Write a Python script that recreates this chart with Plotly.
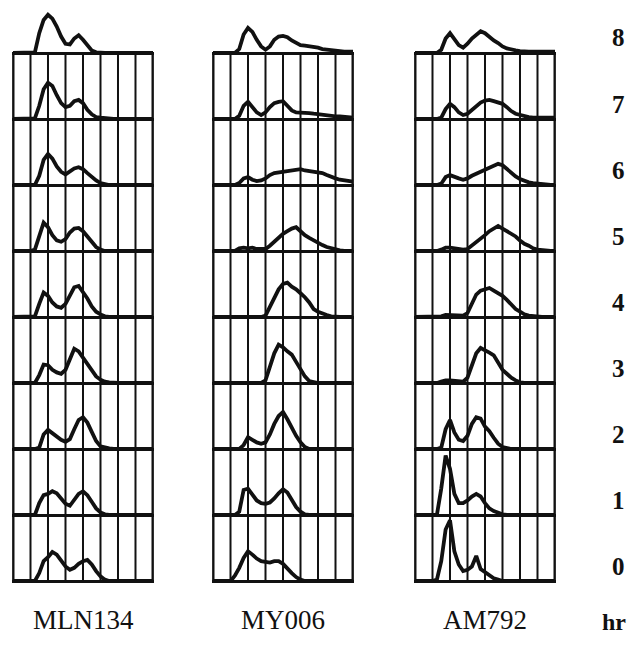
import plotly.graph_objects as go

# ---------------- data ----------------
STRAINS = ["MLN134", "MY006", "AM792"]
HOURS = [0, 1, 2, 3, 4, 5, 6, 7, 8]
HOUR_LABELS = ["0", "1", "2", "3", "4", "5", "6", "7", "8"]
UNIT_LABEL = "hr"

# channel positions (grid units, 8 vertical divisions per panel)
X = [0.0, 0.25, 0.5, 0.75, 1.0, 1.25, 1.5, 1.75, 2.0, 2.25, 2.5, 2.75,
     3.0, 3.25, 3.5, 3.75, 4.0, 4.25, 4.5, 4.75, 5.0, 5.25, 5.5, 5.75,
     6.0, 6.25, 6.5, 6.75, 7.0, 7.25, 7.5, 7.75, 8.0]

# relative cell counts (fraction of one row height), rows = hours 0..8
MLN134_H = [
    [0, 0, 0, 0, 0, 0, 0.12, 0.30, 0.36, 0.44, 0.40, 0.30, 0.22, 0.17, 0.20, 0.26, 0.30,
     0.32, 0.25, 0.15, 0.07, 0.02, 0, 0, 0, 0, 0, 0, 0, 0, 0, 0, 0],
    [0, 0, 0, 0, 0, 0, 0.18, 0.30, 0.32, 0.36, 0.33, 0.25, 0.17, 0.14, 0.22, 0.32, 0.36,
     0.30, 0.20, 0.10, 0.04, 0.01, 0, 0, 0, 0, 0, 0, 0, 0, 0, 0, 0],
    [0, 0, 0, 0, 0, 0, 0.02, 0.22, 0.29, 0.24, 0.18, 0.14, 0.11, 0.15, 0.30, 0.44, 0.48,
     0.40, 0.26, 0.12, 0.04, 0.02, 0.01, 0, 0, 0, 0, 0, 0, 0, 0, 0, 0],
    [0, 0, 0, 0, 0, 0, 0.12, 0.28, 0.27, 0.20, 0.16, 0.14, 0.20, 0.38, 0.52, 0.48, 0.38,
     0.28, 0.18, 0.10, 0.05, 0.02, 0.01, 0, 0, 0, 0, 0, 0, 0, 0, 0, 0],
    [0, 0, 0, 0, 0, 0.01, 0.20, 0.37, 0.32, 0.22, 0.16, 0.14, 0.20, 0.34, 0.45, 0.47, 0.38,
     0.28, 0.16, 0.08, 0.04, 0.01, 0, 0, 0, 0, 0, 0, 0, 0, 0, 0, 0],
    [0, 0, 0, 0, 0, 0.02, 0.25, 0.43, 0.36, 0.24, 0.16, 0.14, 0.18, 0.28, 0.34, 0.35, 0.30,
     0.22, 0.14, 0.06, 0.02, 0, 0, 0, 0, 0, 0, 0, 0, 0, 0, 0, 0],
    [0, 0, 0, 0, 0, 0, 0.14, 0.38, 0.47, 0.40, 0.28, 0.20, 0.16, 0.20, 0.25, 0.27, 0.24,
     0.18, 0.12, 0.07, 0.03, 0.01, 0, 0, 0, 0, 0, 0, 0, 0, 0, 0, 0],
    [0, 0, 0, 0, 0, 0.01, 0.20, 0.45, 0.55, 0.50, 0.36, 0.24, 0.18, 0.20, 0.27, 0.29, 0.24,
     0.14, 0.07, 0.03, 0.02, 0.01, 0, 0, 0, 0, 0, 0, 0, 0, 0, 0, 0],
    [0, 0, 0, 0, 0, 0.01, 0.30, 0.50, 0.58, 0.52, 0.40, 0.25, 0.14, 0.13, 0.22, 0.27, 0.20,
     0.12, 0.04, 0.01, 0, 0, 0, 0, 0, 0, 0, 0, 0, 0, 0, 0, 0],
]

MY006_H = [
    [0, 0, 0, 0, 0, 0.08, 0.20, 0.35, 0.45, 0.40, 0.34, 0.30, 0.29, 0.28, 0.30, 0.30, 0.26,
     0.18, 0.12, 0.06, 0.02, 0, 0, 0, 0, 0, 0, 0, 0, 0, 0, 0, 0],
    [0, 0, 0, 0, 0, 0, 0.05, 0.38, 0.40, 0.30, 0.22, 0.18, 0.17, 0.19, 0.25, 0.33, 0.39,
     0.34, 0.24, 0.12, 0.05, 0.01, 0, 0, 0, 0, 0, 0, 0, 0, 0, 0, 0],
    [0, 0, 0, 0, 0, 0, 0, 0.06, 0.18, 0.14, 0.10, 0.08, 0.10, 0.22, 0.38, 0.50, 0.56,
     0.45, 0.32, 0.20, 0.10, 0.03, 0, 0, 0, 0, 0, 0, 0, 0, 0, 0, 0],
    [0, 0, 0, 0, 0, 0, 0, 0, 0, 0, 0, 0, 0.04, 0.25, 0.45, 0.58, 0.54,
     0.48, 0.43, 0.32, 0.20, 0.10, 0.03, 0.01, 0, 0, 0, 0, 0, 0, 0, 0, 0],
    [0, 0, 0, 0, 0, 0, 0, 0, 0, 0, 0, 0, 0.02, 0.15, 0.30, 0.42, 0.50,
     0.52, 0.46, 0.42, 0.36, 0.30, 0.22, 0.12, 0.08, 0.05, 0.03, 0.01, 0, 0, 0, 0, 0],
    [0, 0, 0, 0, 0, 0, 0.04, 0.05, 0.04, 0.05, 0.03, 0.03, 0.03, 0.08, 0.14, 0.20, 0.26,
     0.30, 0.34, 0.36, 0.30, 0.24, 0.20, 0.16, 0.12, 0.09, 0.06, 0.04, 0.02, 0.01, 0, 0, 0],
    [0, 0, 0, 0, 0, 0, 0.03, 0.10, 0.12, 0.08, 0.06, 0.07, 0.10, 0.15, 0.18, 0.19, 0.20,
     0.21, 0.22, 0.23, 0.24, 0.22, 0.21, 0.20, 0.19, 0.18, 0.15, 0.12, 0.10, 0.08, 0.07, 0.06, 0.05],
    [0, 0, 0, 0, 0, 0, 0.05, 0.20, 0.26, 0.18, 0.10, 0.06, 0.10, 0.18, 0.24, 0.26, 0.27,
     0.20, 0.13, 0.10, 0.10, 0.10, 0.09, 0.08, 0.07, 0.06, 0.06, 0.05, 0.04, 0.04, 0.03, 0.03, 0.02],
    [0, 0, 0, 0, 0, 0, 0.06, 0.28, 0.38, 0.32, 0.20, 0.10, 0.05, 0.10, 0.20, 0.25, 0.26,
     0.24, 0.19, 0.15, 0.12, 0.11, 0.10, 0.10, 0.08, 0.06, 0.05, 0.04, 0.03, 0.03, 0.02, 0.02, 0.02],
]

AM792_H = [
    [0, 0, 0, 0, 0, 0.02, 0.30, 0.78, 0.92, 0.45, 0.25, 0.15, 0.17, 0.22, 0.38, 0.18, 0.13,
     0.08, 0.04, 0.02, 0, 0, 0, 0, 0, 0, 0, 0, 0, 0, 0, 0, 0],
    [0, 0, 0, 0, 0, 0, 0.40, 0.90, 0.70, 0.32, 0.18, 0.18, 0.22, 0.28, 0.32, 0.28, 0.18,
     0.10, 0.06, 0.03, 0.01, 0, 0, 0, 0, 0, 0, 0, 0, 0, 0, 0, 0],
    [0, 0, 0, 0, 0, 0, 0.02, 0.30, 0.44, 0.25, 0.14, 0.12, 0.20, 0.38, 0.48, 0.46, 0.34,
     0.27, 0.17, 0.08, 0.03, 0.01, 0, 0, 0, 0, 0, 0, 0, 0, 0, 0, 0],
    [0, 0, 0, 0, 0, 0, 0.02, 0.04, 0.04, 0.03, 0.02, 0.02, 0.08, 0.28, 0.45, 0.53, 0.50,
     0.46, 0.42, 0.30, 0.20, 0.14, 0.08, 0.04, 0.01, 0, 0, 0, 0, 0, 0, 0, 0],
    [0, 0, 0, 0, 0, 0, 0.01, 0.03, 0.03, 0.02, 0.02, 0.02, 0.06, 0.20, 0.34, 0.40, 0.42,
     0.44, 0.40, 0.36, 0.32, 0.26, 0.18, 0.12, 0.08, 0.04, 0.02, 0.01, 0, 0, 0, 0, 0],
    [0, 0, 0, 0, 0, 0, 0.02, 0.05, 0.05, 0.04, 0.03, 0.02, 0.03, 0.08, 0.13, 0.18, 0.24,
     0.30, 0.34, 0.38, 0.34, 0.30, 0.25, 0.22, 0.16, 0.11, 0.08, 0.04, 0.02, 0.01, 0, 0, 0],
    [0, 0, 0, 0, 0, 0, 0.02, 0.12, 0.15, 0.12, 0.10, 0.08, 0.10, 0.14, 0.17, 0.20, 0.23,
     0.26, 0.28, 0.32, 0.30, 0.24, 0.18, 0.13, 0.09, 0.06, 0.04, 0.03, 0.02, 0.01, 0, 0, 0],
    [0, 0, 0, 0, 0, 0, 0.02, 0.15, 0.23, 0.18, 0.10, 0.06, 0.08, 0.14, 0.20, 0.25, 0.28,
     0.29, 0.27, 0.25, 0.23, 0.18, 0.12, 0.08, 0.06, 0.04, 0.03, 0.02, 0.02, 0.02, 0.02, 0.02, 0.02],
    [0, 0, 0, 0, 0, 0, 0.05, 0.22, 0.30, 0.22, 0.12, 0.08, 0.14, 0.22, 0.28, 0.33, 0.30,
     0.24, 0.19, 0.15, 0.10, 0.07, 0.05, 0.04, 0.03, 0.02, 0.02, 0.02, 0.02, 0.02, 0.02, 0.02, 0.02],
]

SERIES = [MLN134_H, MY006_H, AM792_H]

# ---------------- layout geometry ----------------
# positions are page pixels; the page body has an 8 px margin, so the
# figure is offset by 8 px and kept small enough that no scrollbar appears.
PAGE_W, PAGE_H = 635, 645
OFF = 8
W, H = PAGE_W - 2 * OFF, PAGE_H - 2 * OFF

def fx(px):
    return (px - OFF) / W

def fy(py):
    return 1 - (py - OFF) / H

COL_PX = [(13, 153), (213, 353), (415, 555)]
BOTTOM_PX = 581
ROW_PX = 66
N_DIV = 8
PAD = 0.05
Y_TOP = (BOTTOM_PX - OFF) / ROW_PX

INK = "#111111"
FONT = "Liberation Serif, Times New Roman, serif"

fig = go.Figure()

for ci, (name, rows) in enumerate(zip(STRAINS, SERIES)):
    sfx = "" if ci == 0 else str(ci + 1)
    xa, ya = "x" + sfx, "y" + sfx
    for hr, h in zip(HOURS, rows):
        fig.add_trace(go.Scatter(
            x=X, y=[hr + v for v in h], mode="lines",
            line=dict(color=INK, width=3.8, shape="linear"),
            xaxis=xa, yaxis=ya, hoverinfo="skip", showlegend=False))
    for g in range(N_DIV + 1):
        fig.add_shape(type="line", xref=xa, yref=ya, x0=g, x1=g, y0=HOURS[0], y1=HOURS[-1],
                      line=dict(color=INK, width=3 if g in (0, N_DIV) else 2),
                      layer="above")
    x0p, x1p = COL_PX[ci]
    upx = (x1p - x0p) / N_DIV
    xdom = [fx(x0p - PAD * upx), fx(x1p + PAD * upx)]
    ydom = [fy(BOTTOM_PX + PAD * ROW_PX), 1.0]
    fig.update_layout(**{
        "xaxis" + sfx: dict(domain=xdom, range=[-PAD, N_DIV + PAD], showgrid=False,
                            zeroline=False, showticklabels=False, ticks="", anchor=ya),
        "yaxis" + sfx: dict(domain=ydom, range=[-PAD, Y_TOP], tickvals=HOURS,
                            showgrid=True, gridcolor=INK, gridwidth=3,
                            zeroline=False, showticklabels=False, ticks="", anchor=xa),
    })
    fig.add_annotation(x=fx((x0p + x1p) / 2), y=fy(620), xref="paper", yref="paper",
                       text=name, showarrow=False, xanchor="center", yanchor="middle",
                       font=dict(family=FONT, size=27, color=INK))

for hr, lab in zip(HOURS, HOUR_LABELS):
    ypx = BOTTOM_PX - hr * ROW_PX - 15
    fig.add_annotation(x=fx(618), y=fy(ypx), xref="paper", yref="paper",
                       text="<b>%s</b>" % lab, showarrow=False, xanchor="center",
                       yanchor="middle", font=dict(family=FONT, size=25, color=INK))

fig.add_annotation(x=fx(614), y=fy(622), xref="paper", yref="paper",
                   text="<b>%s</b>" % UNIT_LABEL, showarrow=False, xanchor="center",
                   yanchor="middle", font=dict(family=FONT, size=24, color=INK))

fig.update_layout(width=W, height=H, autosize=False,
                  margin=dict(l=0, r=0, t=0, b=0),
                  paper_bgcolor="white", plot_bgcolor="rgba(0,0,0,0)")

fig.write_html("out.html")
